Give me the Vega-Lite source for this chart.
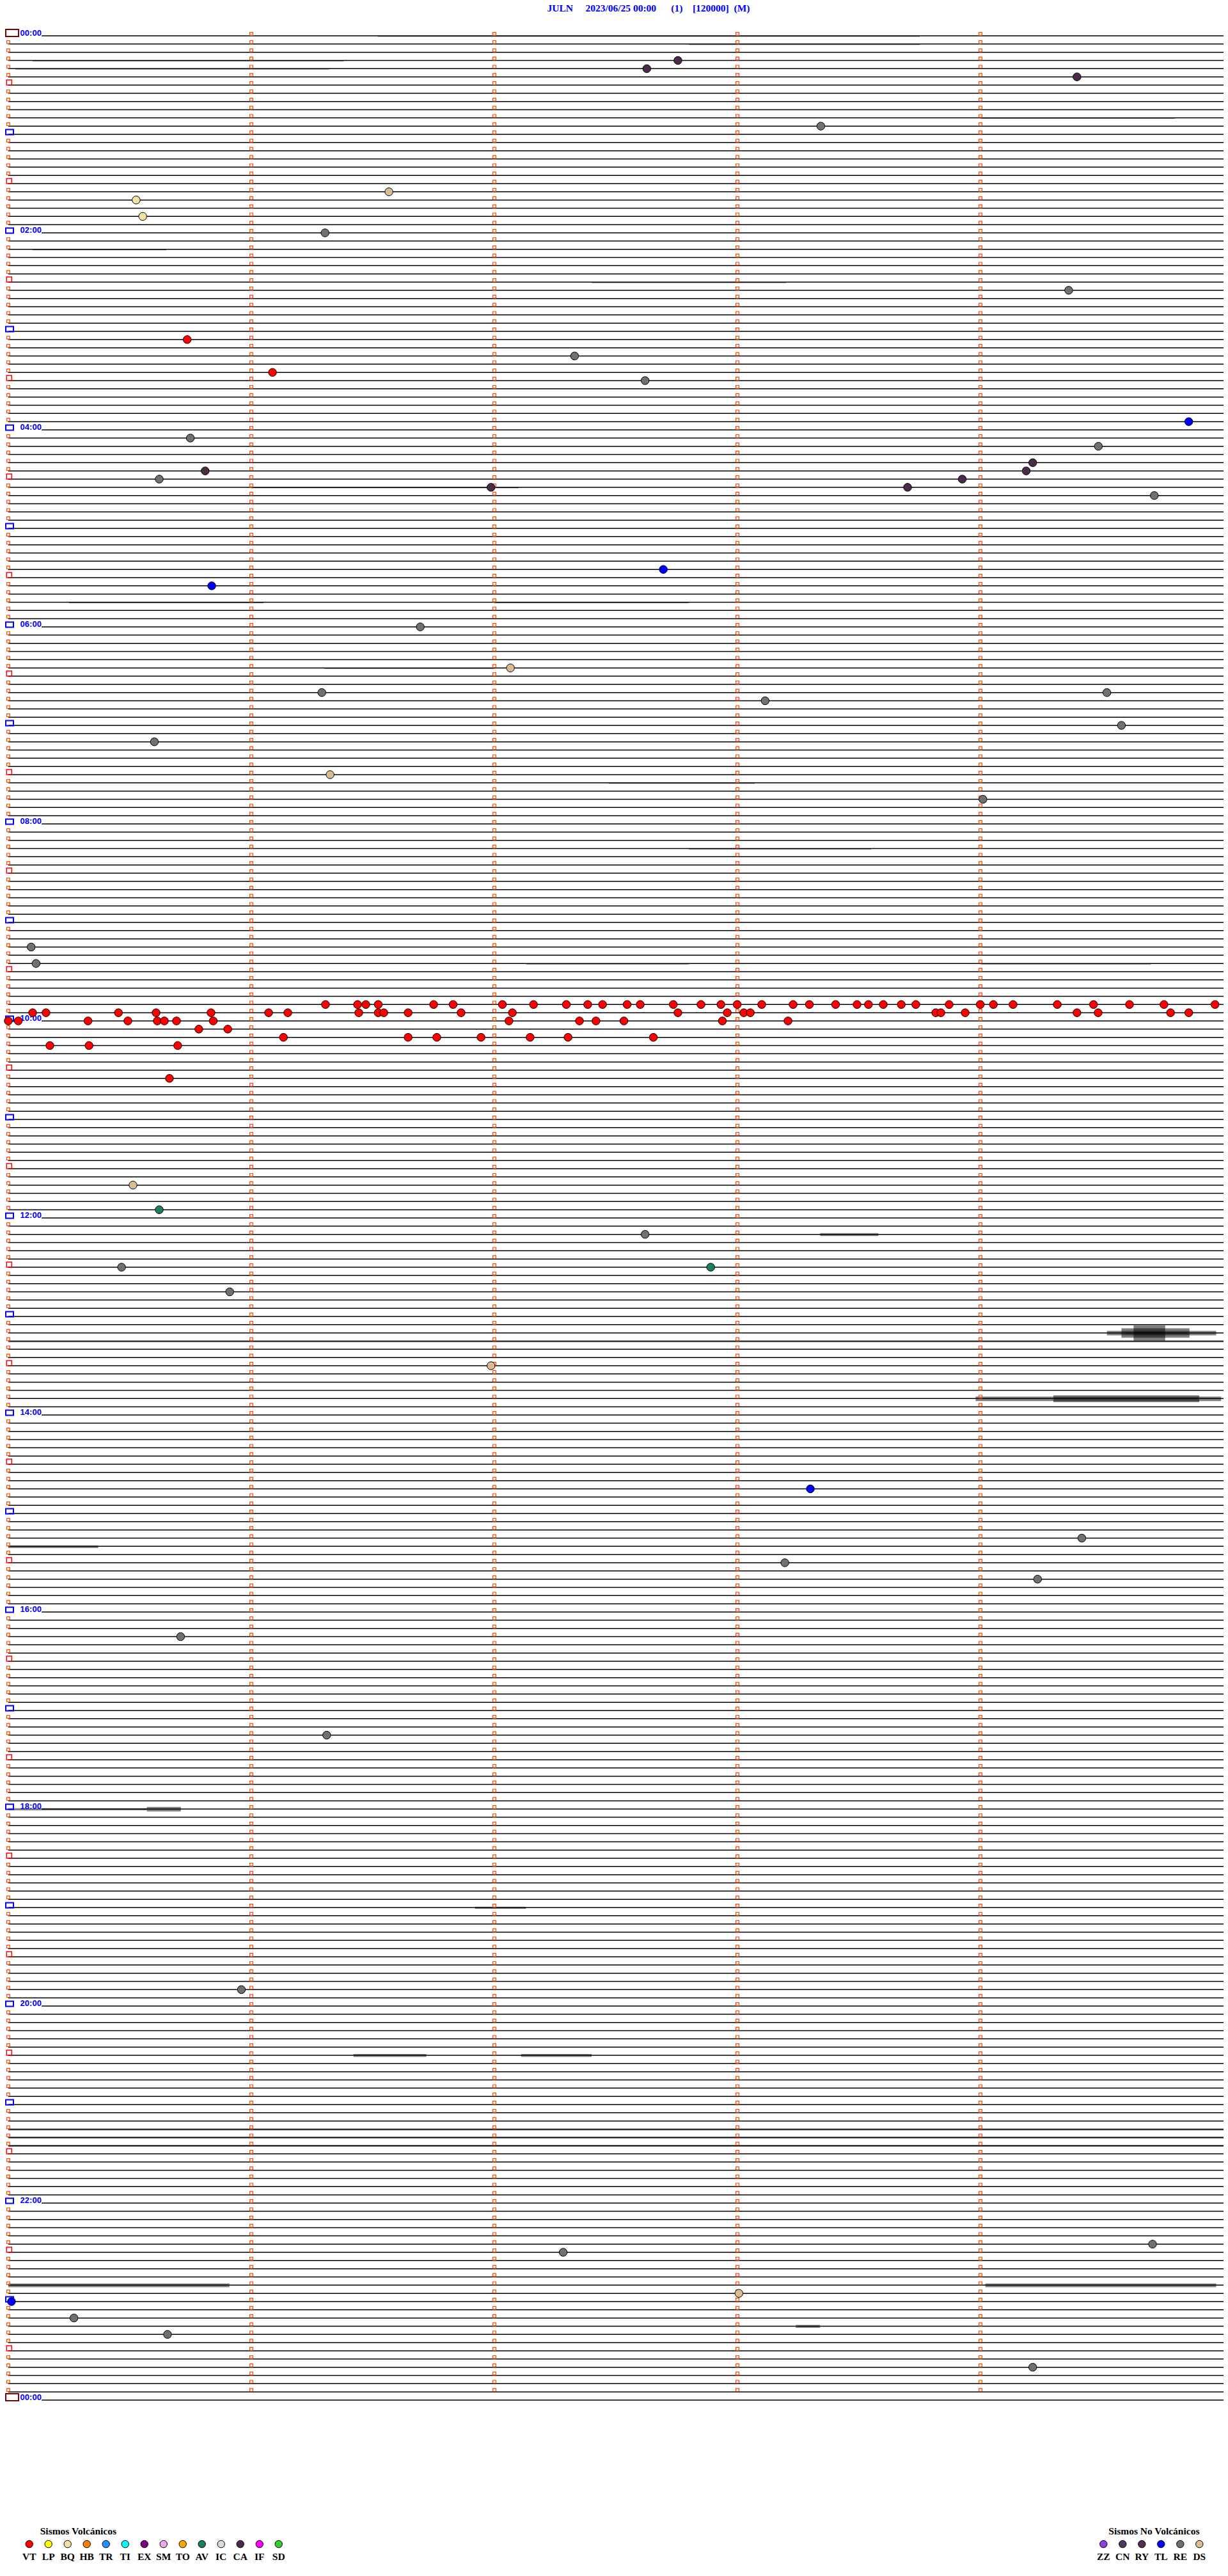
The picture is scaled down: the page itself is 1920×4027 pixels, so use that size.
{
"$schema": "https://vega.github.io/schema/vega-lite/v6.json",
"autosize": "none",
"width": 1900,
"height": 3696,
"padding": {"left": 13, "top": 56, "right": 7, "bottom": 275},
"background": "white",
"config": {"view": {"stroke": null}, "axis": {"disable": true}, "legend": {"disable": true}},
"title": {"text": "JULN\u00a0\u00a0\u00a0\u00a0\u00a02023/06/25 00:00\u00a0\u00a0\u00a0\u00a0\u00a0\u00a0(1)\u00a0\u00a0\u00a0\u00a0[120000]\u00a0\u00a0(M)", "anchor": "middle", "frame": "group", "dx": 51, "offset": 9, "baseline": "alphabetic", "font": "Liberation Serif", "fontSize": 15.5, "fontWeight": "bold", "color": "#0000FF"},
"datasets": {
"rows": [0,1,2,3,4,5,6,7,8,9,10,11,12,13,14,15,16,17,18,19,20,21,22,23,24,25,26,27,28,29,30,31,32,33,34,35,36,37,38,39,40,41,42,43,44,45,46,47,48,49,50,51,52,53,54,55,56,57,58,59,60,61,62,63,64,65,66,67,68,69,70,71,72,73,74,75,76,77,78,79,80,81,82,83,84,85,86,87,88,89,90,91,92,93,94,95,96,97,98,99,100,101,102,103,104,105,106,107,108,109,110,111,112,113,114,115,116,117,118,119,120,121,122,123,124,125,126,127,128,129,130,131,132,133,134,135,136,137,138,139,140,141,142,143,144,145,146,147,148,149,150,151,152,153,154,155,156,157,158,159,160,161,162,163,164,165,166,167,168,169,170,171,172,173,174,175,176,177,178,179,180,181,182,183,184,185,186,187,188,189,190,191,192,193,194,195,196,197,198,199,200,201,202,203,204,205,206,207,208,209,210,211,212,213,214,215,216,217,218,219,220,221,222,223,224,225,226,227,228,229,230,231,232,233,234,235,236,237,238,239,240,241,242,243,244,245,246,247,248,249,250,251,252,253,254,255,256,257,258,259,260,261,262,263,264,265,266,267,268,269,270,271,272,273,274,275,276,277,278,279,280,281,282,283,284,285,286,287,288],
"hours": [{"r":0,"t":"00:00"},{"r":24,"t":"02:00"},{"r":48,"t":"04:00"},{"r":72,"t":"06:00"},{"r":96,"t":"08:00"},{"r":120,"t":"10:00"},{"r":144,"t":"12:00"},{"r":168,"t":"14:00"},{"r":192,"t":"16:00"},{"r":216,"t":"18:00"},{"r":240,"t":"20:00"},{"r":264,"t":"22:00"},{"r":288,"t":"00:00"}],
"noise": [
{"r":158,"a":4.52,"b":4.97,"lo":157.75,"hi":158.3},
{"r":158,"a":4.58,"b":4.86,"lo":157.45,"hi":158.6},
{"r":158,"a":4.63,"b":4.76,"lo":157.1,"hi":158.95},
{"r":159,"a":0.0,"b":5.0,"lo":158.98,"hi":159.14},
{"r":166,"a":3.98,"b":4.99,"lo":165.75,"hi":166.3},
{"r":166,"a":4.3,"b":4.9,"lo":165.6,"hi":166.45},
{"r":146,"a":3.34,"b":3.58,"lo":145.85,"hi":146.2},
{"r":184,"a":0.0,"b":0.37,"lo":183.9,"hi":184.2},
{"r":216,"a":0.0,"b":0.57,"lo":215.9,"hi":216.15},
{"r":216,"a":0.57,"b":0.71,"lo":215.75,"hi":216.3},
{"r":228,"a":1.92,"b":2.13,"lo":227.9,"hi":228.15},
{"r":246,"a":1.42,"b":1.72,"lo":245.85,"hi":246.2},
{"r":246,"a":2.11,"b":2.4,"lo":245.85,"hi":246.2},
{"r":255,"a":0.0,"b":5.0,"lo":254.97,"hi":255.15},
{"r":256,"a":0.0,"b":5.0,"lo":255.97,"hi":256.15},
{"r":257,"a":0.0,"b":5.0,"lo":256.97,"hi":257.15},
{"r":274,"a":0.0,"b":0.91,"lo":273.8,"hi":274.25},
{"r":274,"a":4.02,"b":4.97,"lo":273.8,"hi":274.25},
{"r":279,"a":3.24,"b":3.34,"lo":278.85,"hi":279.2},
{"r":0,"a":1.52,"b":3.75,"lo":0.0,"hi":0.12},
{"r":1,"a":2.8,"b":3.75,"lo":1.0,"hi":1.12},
{"r":3,"a":0.1,"b":1.38,"lo":3.0,"hi":3.12},
{"r":4,"a":0.03,"b":1.32,"lo":4.0,"hi":4.12},
{"r":10,"a":4.0,"b":4.8,"lo":10.0,"hi":10.12},
{"r":26,"a":0.1,"b":0.65,"lo":26.0,"hi":26.12},
{"r":30,"a":2.4,"b":3.2,"lo":30.0,"hi":30.12},
{"r":55,"a":1.0,"b":2.1,"lo":55.0,"hi":55.12},
{"r":69,"a":0.25,"b":1.05,"lo":69.0,"hi":69.12},
{"r":69,"a":2.0,"b":2.8,"lo":69.0,"hi":69.12},
{"r":77,"a":1.3,"b":2.0,"lo":77.0,"hi":77.12},
{"r":91,"a":2.47,"b":3.07,"lo":91.0,"hi":91.12},
{"r":99,"a":2.8,"b":3.55,"lo":99.0,"hi":99.12},
{"r":113,"a":2.13,"b":2.8,"lo":113.0,"hi":113.12},
{"r":113,"a":4.0,"b":4.7,"lo":113.0,"hi":113.12}
],
"ev": [
{"r":3,"m":2.755,"t":"CA"},{"r":4,"m":2.627,"t":"CA"},{"r":5,"m":4.397,"t":"CA"},{"r":11,"m":3.343,"t":"RE"},
{"r":20,"m":0.526,"t":"BQ"},{"r":19,"m":1.566,"t":"DS"},{"r":22,"m":0.553,"t":"BQ"},{"r":24,"m":1.303,"t":"RE"},
{"r":31,"m":4.363,"t":"RE"},{"r":37,"m":0.736,"t":"VT"},{"r":39,"m":2.33,"t":"RE"},{"r":41,"m":1.087,"t":"VT"},
{"r":42,"m":2.62,"t":"RE"},{"r":47,"m":4.857,"t":"TL"},{"r":49,"m":0.749,"t":"RE"},{"r":50,"m":4.485,"t":"RE"},
{"r":52,"m":4.215,"t":"CA"},{"r":53,"m":0.81,"t":"CA"},{"r":53,"m":4.188,"t":"CA"},{"r":54,"m":0.621,"t":"RE"},
{"r":55,"m":3.70,"t":"CA"},{"r":54,"m":3.925,"t":"CA"},{"r":55,"m":1.986,"t":"CA"},{"r":56,"m":4.715,"t":"RE"},
{"r":65,"m":2.695,"t":"TL"},{"r":67,"m":0.837,"t":"TL"},{"r":72,"m":1.695,"t":"RE"},{"r":77,"m":2.066,"t":"DS"},
{"r":80,"m":4.52,"t":"RE"},{"r":80,"m":1.29,"t":"RE"},{"r":81,"m":3.114,"t":"RE"},{"r":84,"m":4.58,"t":"RE"},
{"r":86,"m":0.601,"t":"RE"},{"r":90,"m":1.324,"t":"DS"},{"r":93,"m":4.01,"t":"RE"},{"r":111,"m":0.094,"t":"RE"},
{"r":113,"m":0.114,"t":"RE"},{"r":127,"m":0.663,"t":"VT"},{"r":140,"m":0.513,"t":"DS"},{"r":143,"m":0.621,"t":"AV"},
{"r":146,"m":2.62,"t":"RE"},{"r":150,"m":0.466,"t":"RE"},{"r":150,"m":2.89,"t":"AV"},{"r":153,"m":0.911,"t":"RE"},
{"r":162,"m":1.986,"t":"DS"},{"r":177,"m":3.30,"t":"TL"},{"r":183,"m":4.417,"t":"RE"},{"r":186,"m":3.195,"t":"RE"},
{"r":188,"m":4.235,"t":"RE"},{"r":195,"m":0.709,"t":"RE"},{"r":207,"m":1.31,"t":"RE"},{"r":238,"m":0.959,"t":"RE"},
{"r":269,"m":4.708,"t":"RE"},{"r":270,"m":2.283,"t":"RE"},{"r":275,"m":3.006,"t":"DS"},{"r":276,"m":0.013,"t":"TL"},
{"r":278,"m":0.27,"t":"RE"},{"r":280,"m":0.655,"t":"RE"},{"r":284,"m":4.215,"t":"RE"},
{"r":118,"m":1.305,"t":"VT"},{"r":118,"m":1.437,"t":"VT"},{"r":118,"m":1.471,"t":"VT"},{"r":118,"m":1.522,"t":"VT"},{"r":118,"m":1.75,"t":"VT"},{"r":118,"m":1.83,"t":"VT"},{"r":118,"m":2.033,"t":"VT"},{"r":118,"m":2.161,"t":"VT"},{"r":118,"m":2.296,"t":"VT"},{"r":118,"m":2.384,"t":"VT"},{"r":118,"m":2.445,"t":"VT"},{"r":118,"m":2.546,"t":"VT"},{"r":118,"m":2.6,"t":"VT"},{"r":118,"m":2.736,"t":"VT"},{"r":118,"m":2.85,"t":"VT"},{"r":118,"m":2.932,"t":"VT"},{"r":118,"m":2.999,"t":"VT"},{"r":118,"m":3.1,"t":"VT"},{"r":118,"m":3.229,"t":"VT"},{"r":118,"m":3.296,"t":"VT"},{"r":118,"m":3.404,"t":"VT"},{"r":118,"m":3.492,"t":"VT"},{"r":118,"m":3.539,"t":"VT"},{"r":118,"m":3.6,"t":"VT"},{"r":118,"m":3.674,"t":"VT"},{"r":118,"m":3.734,"t":"VT"},{"r":118,"m":3.871,"t":"VT"},{"r":118,"m":3.999,"t":"VT"},{"r":118,"m":4.053,"t":"VT"},{"r":118,"m":4.134,"t":"VT"},{"r":118,"m":4.316,"t":"VT"},{"r":118,"m":4.465,"t":"VT"},{"r":118,"m":4.613,"t":"VT"},{"r":118,"m":4.755,"t":"VT"},{"r":118,"m":4.965,"t":"VT"},
{"r":119,"m":0.1,"t":"VT"},{"r":119,"m":0.155,"t":"VT"},{"r":119,"m":0.453,"t":"VT"},{"r":119,"m":0.608,"t":"VT"},{"r":119,"m":0.834,"t":"VT"},{"r":119,"m":1.071,"t":"VT"},{"r":119,"m":1.15,"t":"VT"},{"r":119,"m":1.442,"t":"VT"},{"r":119,"m":1.522,"t":"VT"},{"r":119,"m":1.545,"t":"VT"},{"r":119,"m":1.645,"t":"VT"},{"r":119,"m":1.863,"t":"VT"},{"r":119,"m":2.074,"t":"VT"},{"r":119,"m":2.755,"t":"VT"},{"r":119,"m":2.958,"t":"VT"},{"r":119,"m":3.026,"t":"VT"},{"r":119,"m":3.053,"t":"VT"},{"r":119,"m":3.816,"t":"VT"},{"r":119,"m":3.837,"t":"VT"},{"r":119,"m":3.937,"t":"VT"},{"r":119,"m":4.397,"t":"VT"},{"r":119,"m":4.484,"t":"VT"},{"r":119,"m":4.782,"t":"VT"},{"r":119,"m":4.857,"t":"VT"},
{"r":120,"m":0.0,"t":"VT"},{"r":120,"m":0.041,"t":"VT"},{"r":120,"m":0.328,"t":"VT"},{"r":120,"m":0.492,"t":"VT"},{"r":120,"m":0.613,"t":"VT"},{"r":120,"m":0.642,"t":"VT"},{"r":120,"m":0.692,"t":"VT"},{"r":120,"m":0.843,"t":"VT"},{"r":120,"m":2.06,"t":"VT"},{"r":120,"m":2.35,"t":"VT"},{"r":120,"m":2.418,"t":"VT"},{"r":120,"m":2.533,"t":"VT"},{"r":120,"m":2.938,"t":"VT"},{"r":120,"m":3.208,"t":"VT"},
{"r":121,"m":0.784,"t":"VT"},{"r":121,"m":0.903,"t":"VT"},
{"r":122,"m":1.132,"t":"VT"},{"r":122,"m":1.645,"t":"VT"},{"r":122,"m":1.763,"t":"VT"},{"r":122,"m":1.945,"t":"VT"},{"r":122,"m":2.147,"t":"VT"},{"r":122,"m":2.303,"t":"VT"},{"r":122,"m":2.654,"t":"VT"},
{"r":123,"m":0.171,"t":"VT"},{"r":123,"m":0.332,"t":"VT"},{"r":123,"m":0.697,"t":"VT"}
],
"legV": [{"t":"VT"},{"t":"LP"},{"t":"BQ"},{"t":"HB"},{"t":"TR"},{"t":"TI"},{"t":"EX"},{"t":"SM"},{"t":"TO"},{"t":"AV"},{"t":"IC"},{"t":"CA"},{"t":"IF"},{"t":"SD"}],
"legN": [{"t":"ZZ"},{"t":"CN"},{"t":"RY"},{"t":"TL"},{"t":"RE"},{"t":"DS"}]
},
"resolve": {"scale": {"x": "independent"}},
"layer": [
{"layer": [
 {"data": {"name": "rows"}, "transform": [{"filter": "datum.data % 24 != 0"}],
  "mark": {"type": "rule", "stroke": "#000000", "strokeWidth": 1.5},
  "encoding": {"x": {"datum": 0, "type": "quantitative", "scale": {"domain": [0,5], "nice": false, "zero": false}}, "x2": {"datum": 5},
   "y": {"field": "data", "type": "quantitative", "scale": {"domain": [0,288], "reverse": true, "nice": false, "zero": false}}}},
 {"data": {"name": "rows"}, "transform": [{"filter": "datum.data % 24 == 0"}],
  "mark": {"type": "rule", "stroke": "#000000", "strokeWidth": 1.5},
  "encoding": {"x": {"datum": 0.137, "type": "quantitative", "scale": {"domain": [0,5], "nice": false, "zero": false}}, "x2": {"datum": 5},
   "y": {"field": "data", "type": "quantitative", "scale": {"domain": [0,288], "reverse": true, "nice": false, "zero": false}}}},
 {"data": {"name": "noise"}, "mark": {"type": "rect", "fill": "#000000", "opacity": 0.5},
  "encoding": {"x": {"field": "a", "type": "quantitative", "scale": {"domain": [0,5], "nice": false, "zero": false}}, "x2": {"field": "b"},
   "y": {"field": "lo", "type": "quantitative", "scale": {"domain": [0,288], "reverse": true, "nice": false, "zero": false}}, "y2": {"field": "hi"}}},
 {"data": {"name": "rows"}, "transform": [{"filter": "datum.data < 288"}],
  "encoding": {"y": {"field": "data", "type": "quantitative", "scale": {"domain": [0,288], "reverse": true, "nice": false, "zero": false}}},
  "layer": [
   {"mark": {"type": "point", "shape": "square", "filled": false, "stroke": "#FF4500", "strokeWidth": 1.2, "size": 22, "yOffset": -3, "opacity": 1}, "encoding": {"x": {"datum": 1, "type": "quantitative", "scale": {"domain": [0,5], "nice": false, "zero": false}}}},
   {"mark": {"type": "point", "shape": "square", "filled": false, "stroke": "#FF4500", "strokeWidth": 1.2, "size": 22, "yOffset": -3, "opacity": 1}, "encoding": {"x": {"datum": 2, "type": "quantitative", "scale": {"domain": [0,5], "nice": false, "zero": false}}}},
   {"mark": {"type": "point", "shape": "square", "filled": false, "stroke": "#FF4500", "strokeWidth": 1.2, "size": 22, "yOffset": -3, "opacity": 1}, "encoding": {"x": {"datum": 3, "type": "quantitative", "scale": {"domain": [0,5], "nice": false, "zero": false}}}},
   {"mark": {"type": "point", "shape": "square", "filled": false, "stroke": "#FF4500", "strokeWidth": 1.2, "size": 22, "yOffset": -3, "opacity": 1}, "encoding": {"x": {"datum": 4, "type": "quantitative", "scale": {"domain": [0,5], "nice": false, "zero": false}}}}
  ]},
 {"data": {"name": "rows"}, "transform": [{"filter": "datum.data % 6 != 0"}],
  "mark": {"type": "point", "shape": "square", "filled": false, "stroke": "#FF4500", "strokeWidth": 1.2, "size": 22, "yOffset": -3, "opacity": 1},
  "encoding": {"x": {"datum": 0, "type": "quantitative", "scale": {"domain": [0,5], "nice": false, "zero": false}},
   "y": {"field": "data", "type": "quantitative", "scale": {"domain": [0,288], "reverse": true, "nice": false, "zero": false}}}},
 {"data": {"name": "rows"}, "transform": [{"filter": "datum.data % 12 == 6"}],
  "mark": {"type": "point", "shape": "square", "filled": false, "stroke": "#FF0000", "strokeWidth": 1.5, "size": 64, "yOffset": -4, "xOffset": 1.3, "opacity": 1},
  "encoding": {"x": {"datum": 0, "type": "quantitative", "scale": {"domain": [0,5], "nice": false, "zero": false}},
   "y": {"field": "data", "type": "quantitative", "scale": {"domain": [0,288], "reverse": true, "nice": false, "zero": false}}}},
 {"data": {"name": "rows"}, "transform": [{"filter": "datum.data % 12 == 0 && datum.data > 0 && datum.data < 288"}],
  "mark": {"type": "point", "shape": "M-1.5,-1H1.5V1H-1.5Z", "filled": false, "stroke": "#0000FF", "strokeWidth": 2, "size": 64, "yOffset": -3.5, "xOffset": 2, "opacity": 1},
  "encoding": {"x": {"datum": 0, "type": "quantitative", "scale": {"domain": [0,5], "nice": false, "zero": false}},
   "y": {"field": "data", "type": "quantitative", "scale": {"domain": [0,288], "reverse": true, "nice": false, "zero": false}}}},
 {"data": {"name": "rows"}, "transform": [{"filter": "datum.data == 0 || datum.data == 288"}],
  "mark": {"type": "point", "shape": "M-1,-0.55H1V0.55H-1Z", "filled": false, "stroke": "#800000", "strokeWidth": 2, "size": 400, "yOffset": -4.5, "xOffset": 6, "opacity": 1},
  "encoding": {"x": {"datum": 0, "type": "quantitative", "scale": {"domain": [0,5], "nice": false, "zero": false}},
   "y": {"field": "data", "type": "quantitative", "scale": {"domain": [0,288], "reverse": true, "nice": false, "zero": false}}}},
 {"data": {"name": "hours"},
  "mark": {"type": "text", "align": "left", "baseline": "alphabetic", "font": "Liberation Sans", "fontWeight": "bold", "fontSize": 13, "fill": "#0000FF"},
  "encoding": {"x": {"datum": 0.049, "type": "quantitative", "scale": {"domain": [0,5], "nice": false, "zero": false}},
   "y": {"field": "r", "type": "quantitative", "scale": {"domain": [0,288], "reverse": true, "nice": false, "zero": false}},
   "text": {"field": "t"}}},
 {"data": {"name": "ev"},
  "mark": {"type": "point", "shape": "circle", "filled": true, "stroke": "#000000", "strokeWidth": 1, "size": 155, "opacity": 1},
  "encoding": {"x": {"field": "m", "type": "quantitative", "scale": {"domain": [0,5], "nice": false, "zero": false}},
   "y": {"field": "r", "type": "quantitative", "scale": {"domain": [0,288], "reverse": true, "nice": false, "zero": false}},
   "color": {"field": "t", "type": "nominal", "scale": {"domain": ["VT","LP","BQ","HB","TR","TI","EX","SM","TO","AV","IC","CA","IF","SD","ZZ","CN","RY","TL","RE","DS"], "range": ["#FF0000","#FFFF00","#F2E3A6","#FF8000","#1E90FF","#00FFFF","#800080","#F0A8E8","#FFA500","#1E7F5F","#DCDCDC","#4A2B4A","#FF00FF","#33CC33","#8A3FDF","#4B3A5C","#552E52","#0000FF","#707070","#D9BC90"]}}}}
]},
{"data": {"name": "legV"},
 "encoding": {"x": {"field": "t", "type": "nominal", "sort": null, "scale": {"type": "point", "padding": 0, "range": [32.7, 422.7]}},
  "y": {"datum": 305.54, "type": "quantitative", "scale": {"domain": [0,288], "reverse": true, "nice": false, "zero": false}}},
 "layer": [
  {"mark": {"type": "point", "shape": "circle", "filled": true, "stroke": "#000000", "strokeWidth": 1, "size": 130, "opacity": 1},
   "encoding": {"color": {"field": "t", "type": "nominal", "scale": {"domain": ["VT","LP","BQ","HB","TR","TI","EX","SM","TO","AV","IC","CA","IF","SD","ZZ","CN","RY","TL","RE","DS"], "range": ["#FF0000","#FFFF00","#F2E3A6","#FF8000","#1E90FF","#00FFFF","#800080","#F0A8E8","#FFA500","#1E7F5F","#DCDCDC","#4A2B4A","#FF00FF","#33CC33","#8A3FDF","#4B3A5C","#552E52","#0000FF","#707070","#D9BC90"]}}}},
  {"mark": {"type": "text", "align": "center", "baseline": "middle", "dy": 20, "font": "Liberation Serif", "fontWeight": "bold", "fontSize": 15.5, "fill": "#000000"},
   "encoding": {"text": {"field": "t"}}}
 ]},
{"data": {"values": [{"s": "Sismos Volcánicos"}]},
 "mark": {"type": "text", "align": "left", "baseline": "alphabetic", "dx": 17, "dy": -15, "font": "Liberation Serif", "fontWeight": "bold", "fontSize": 15.5, "fill": "#000000"},
 "encoding": {"x": {"datum": "VT", "type": "nominal", "scale": {"type": "point", "padding": 0, "domain": ["VT","LP","BQ","HB","TR","TI","EX","SM","TO","AV","IC","CA","IF","SD"], "range": [32.7, 422.7]}},
  "y": {"datum": 305.54, "type": "quantitative", "scale": {"domain": [0,288], "reverse": true, "nice": false, "zero": false}},
  "text": {"field": "s"}}},
{"data": {"name": "legN"},
 "encoding": {"x": {"field": "t", "type": "nominal", "sort": null, "scale": {"type": "point", "padding": 0, "range": [1712.3, 1862.3]}},
  "y": {"datum": 305.54, "type": "quantitative", "scale": {"domain": [0,288], "reverse": true, "nice": false, "zero": false}}},
 "layer": [
  {"mark": {"type": "point", "shape": "circle", "filled": true, "stroke": "#000000", "strokeWidth": 1, "size": 130, "opacity": 1},
   "encoding": {"color": {"field": "t", "type": "nominal", "scale": {"domain": ["VT","LP","BQ","HB","TR","TI","EX","SM","TO","AV","IC","CA","IF","SD","ZZ","CN","RY","TL","RE","DS"], "range": ["#FF0000","#FFFF00","#F2E3A6","#FF8000","#1E90FF","#00FFFF","#800080","#F0A8E8","#FFA500","#1E7F5F","#DCDCDC","#4A2B4A","#FF00FF","#33CC33","#8A3FDF","#4B3A5C","#552E52","#0000FF","#707070","#D9BC90"]}}}},
  {"mark": {"type": "text", "align": "center", "baseline": "middle", "dy": 20, "font": "Liberation Serif", "fontWeight": "bold", "fontSize": 15.5, "fill": "#000000"},
   "encoding": {"text": {"field": "t"}}}
 ]},
{"data": {"values": [{"s": "Sismos No Volcánicos"}]},
 "mark": {"type": "text", "align": "left", "baseline": "alphabetic", "dx": 8, "dy": -15, "font": "Liberation Serif", "fontWeight": "bold", "fontSize": 15.5, "fill": "#000000"},
 "encoding": {"x": {"datum": "ZZ", "type": "nominal", "scale": {"type": "point", "padding": 0, "domain": ["ZZ","CN","RY","TL","RE","DS"], "range": [1712.3, 1862.3]}},
  "y": {"datum": 305.54, "type": "quantitative", "scale": {"domain": [0,288], "reverse": true, "nice": false, "zero": false}},
  "text": {"field": "s"}}}
]
}
